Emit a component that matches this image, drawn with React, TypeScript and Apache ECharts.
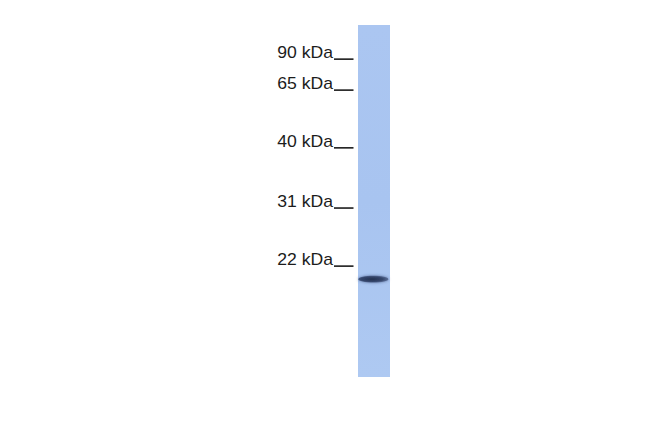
import { useEffect, useRef } from "react";
import * as echarts from "echarts";

// marker ladder, migration in % of lane length (0 = top of lane)
const markerLabels = ["90 kDa", "65 kDa", "40 kDa", "31 kDa", "22 kDa"];
const markerMigration = [9.7, 18.5, 34.9, 52.0, 68.5];

// detected band(s) in the single lane
const bandMigration = [72.2];
const bandSpan = [[0.01, 0.95]];

export default function App() {
  const chartRef = useRef<HTMLDivElement>(null);

  useEffect(() => {
    if (!chartRef.current) return;
    const chart = echarts.init(chartRef.current, null, { renderer: "svg" });

    const option = {
      animation: false,
      backgroundColor: "#ffffff",
      grid: { left: 358, top: 25, width: 32, height: 352 },
      xAxis: { type: "value", min: 0, max: 1, show: false },
      yAxis: { type: "value", min: 0, max: 100, inverse: true, show: false },
      series: [
        {
          type: "custom",
          name: "lane",
          data: [[0, 1, 0, 100]],
          renderItem: (_p: any, api: any) => {
            const a = api.coord([api.value(0), api.value(2)]);
            const b = api.coord([api.value(1), api.value(3)]);
            return {
              type: "rect",
              shape: { x: a[0], y: a[1], width: b[0] - a[0], height: b[1] - a[1] },
              style: {
                fill: new echarts.graphic.LinearGradient(0, 0, 0, 1, [
                  { offset: 0, color: "#abc6f1" },
                  { offset: 0.5, color: "#a8c4f0" },
                  { offset: 1, color: "#aec9f2" }
                ])
              }
            };
          }
        },
        {
          type: "custom",
          name: "band",
          data: bandMigration.map((m, i) => [bandSpan[i][0], bandSpan[i][1], m]),
          renderItem: (_p: any, api: any) => {
            const a = api.coord([api.value(0), api.value(2)]);
            const b = api.coord([api.value(1), api.value(2)]);
            return {
              type: "ellipse",
              shape: { cx: (a[0] + b[0]) / 2, cy: a[1], rx: (b[0] - a[0]) / 2, ry: 3.3 },
              style: {
                fill: new echarts.graphic.RadialGradient(0.45, 0.5, 0.6, [
                  { offset: 0, color: "#243150" },
                  { offset: 0.6, color: "#34466c" },
                  { offset: 1, color: "#6579a3" }
                ]),
                shadowBlur: 3,
                shadowColor: "rgba(60,80,125,0.7)"
              }
            };
          }
        },
        {
          type: "custom",
          name: "markers",
          clip: false,
          data: markerMigration.map((m, i) => [0, m, markerLabels[i]]),
          renderItem: (params: any, api: any) => {
            const p = api.coord([0, api.value(1)]);
            const label = markerLabels[params.dataIndex];
            return {
              type: "group",
              children: [
                {
                  type: "text",
                  x: p[0] - 25,
                  y: p[1] - 6.3,
                  scaleX: 1.1,
                  style: {
                    text: label,
                    fill: "#1c1c1c",
                    font: '16px "Liberation Sans", Arial, sans-serif',
                    align: "right",
                    verticalAlign: "middle"
                  }
                },
                {
                  type: "line",
                  shape: { x1: p[0] - 24, y1: p[1], x2: p[0] - 4.5, y2: p[1] },
                  style: { stroke: "#1c1c1c", lineWidth: 1.6 }
                }
              ]
            };
          }
        }
      ]
    };

    chart.setOption(option);
    return () => chart.dispose();
  }, []);

  return (
    <div
      ref={chartRef}
      style={{ position: "fixed", left: 0, top: 0, width: "650px", height: "433px" }}
    />
  );
}
